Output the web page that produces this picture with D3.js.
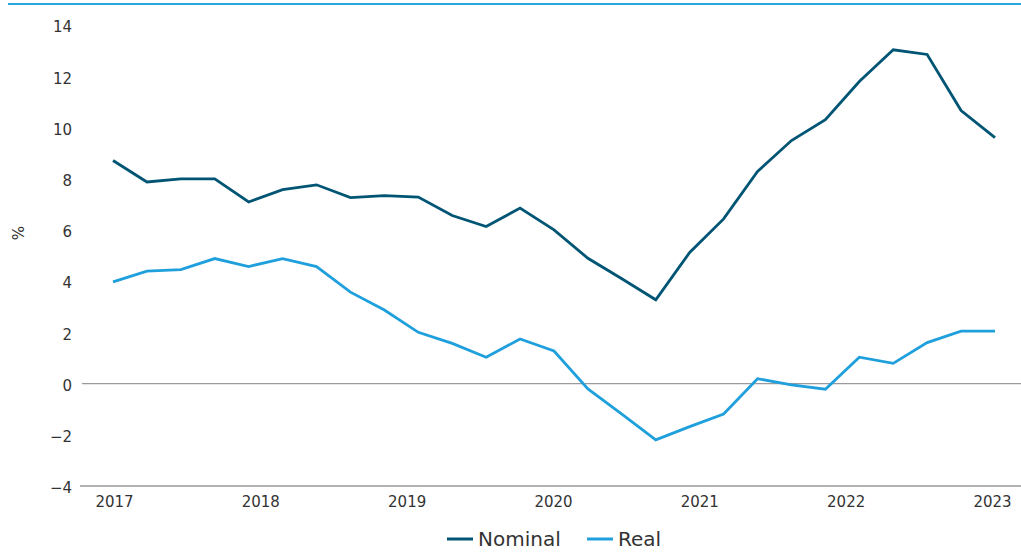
<!DOCTYPE html>
<html>
<head>
<meta charset="utf-8">
<script src="https://cdn.jsdelivr.net/npm/d3@7"></script>
<style>
  html, body { margin: 0; padding: 0; background: #fff; }
  svg { display: block; font-family: "DejaVu Sans", sans-serif; }
</style>
</head>
<body>
<svg id="chart" width="1021" height="558"></svg>
<script>
// Data (27 observations, evenly spaced from start of 2017 to early 2023)
const periods = d3.range(27); // observation index
const nominal = [8.71, 7.87, 7.99, 7.99, 7.09, 7.57, 7.76, 7.26, 7.34, 7.28, 6.56, 6.13, 6.85, 6.00,
                 4.89, 4.09, 3.27, 5.12, 6.43, 8.28, 9.49, 10.30, 11.79, 13.03, 12.85, 10.66, 9.60];
const real = [3.97, 4.39, 4.45, 4.88, 4.57, 4.88, 4.57, 3.57, 2.87, 2.00, 1.57, 1.03, 1.74, 1.27,
              -0.21, -1.19, -2.20, -1.68, -1.19, 0.19, -0.05, -0.22, 1.03, 0.79, 1.60, 2.05, 2.05];
const yearTicks = [2017, 2018, 2019, 2020, 2021, 2022, 2023];
const yTicks = [-4, -2, 0, 2, 4, 6, 8, 10, 12, 14];
const seriesNames = ["Nominal", "Real"];
const seriesColors = ["#005574", "#1fa0dc"];

const svg = d3.select("#chart");
const textColor = "#333333";

const x = d3.scaleLinear().domain([0, 26]).range([113, 995]);
const xYear = d3.scaleLinear().domain([2017, 2023]).range([114, 992]);
const y = d3.scaleLinear().domain([-4, 14]).range([486, 25]);

// top rule
svg.append("line")
  .attr("x1", 8).attr("x2", 1021).attr("y1", 4).attr("y2", 4)
  .attr("stroke", "#29a8e0").attr("stroke-width", 2);

// y axis labels
const yAxis = d3.axisLeft(y).tickValues(yTicks).tickSize(0).tickPadding(0)
  .tickFormat(d => d < 0 ? "\u2212" + Math.abs(d) : d);
const gy = svg.append("g").attr("transform", "translate(72,2)").call(yAxis);
gy.select(".domain").remove();
gy.selectAll("text").attr("fill", textColor).style("font-size", "15px")
  .style("font-family", "DejaVu Sans, sans-serif");

// zero line
svg.append("line")
  .attr("x1", 82).attr("x2", 1021).attr("y1", y(0)).attr("y2", y(0))
  .attr("stroke", "#9a9a9a").attr("stroke-width", 1.3);

// x axis
const xAxis = d3.axisBottom(xYear).tickValues(yearTicks).tickSize(0).tickPadding(10)
  .tickFormat(d3.format("d"));
const gx = svg.append("g").attr("transform", `translate(0,${y(-4)})`).call(xAxis);
gx.select(".domain").remove();
gx.selectAll("text").attr("fill", textColor).style("font-size", "15px")
  .style("font-family", "DejaVu Sans, sans-serif");
svg.append("line")
  .attr("x1", 80).attr("x2", 1021).attr("y1", y(-4)).attr("y2", y(-4))
  .attr("stroke", "#9a9a9a").attr("stroke-width", 1.3);

// y axis title
svg.append("text")
  .attr("transform", "translate(24,233) rotate(-90)")
  .attr("text-anchor", "middle")
  .attr("fill", textColor)
  .style("font-size", "15px")
  .text("%");

// lines
const line = d3.line().x((d, i) => x(periods[i])).y(d => y(d));
[nominal, real].forEach((s, k) => {
  svg.append("path")
    .datum(s)
    .attr("d", line)
    .attr("fill", "none")
    .attr("stroke", seriesColors[k])
    .attr("stroke-width", 2.8)
    .attr("stroke-linejoin", "miter");
});

// legend
const legendX = [447, 587];
seriesNames.forEach((name, k) => {
  const g = svg.append("g").attr("transform", `translate(${legendX[k]},539)`);
  g.append("line").attr("x1", 0).attr("x2", 26).attr("y1", 0).attr("y2", 0)
    .attr("stroke", seriesColors[k]).attr("stroke-width", 3);
  g.append("text").attr("x", 31).attr("y", 0).attr("dy", "0.36em")
    .attr("fill", textColor).style("font-size", "20px").text(name);
});
</script>
</body>
</html>
